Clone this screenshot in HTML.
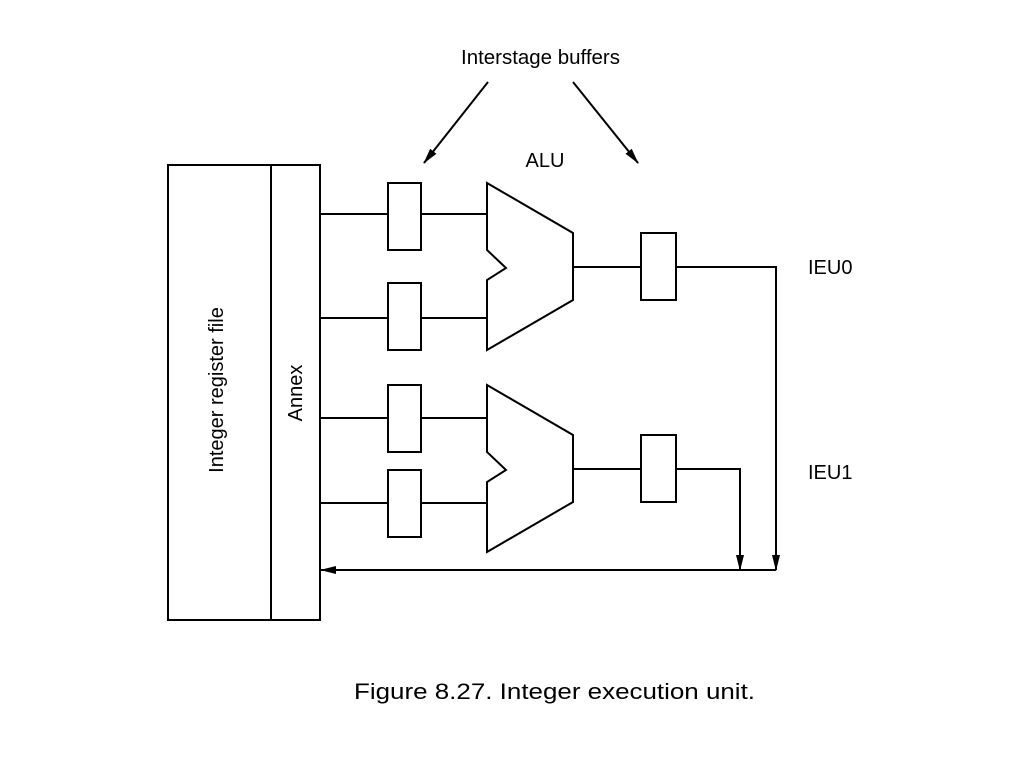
<!DOCTYPE html>
<html><head><style>body{margin:0;background:#fff}</style></head><body>
<svg width="1024" height="768" xmlns="http://www.w3.org/2000/svg" font-family="Liberation Sans, sans-serif">
<defs><marker id="a" markerWidth="16" markerHeight="8" refX="15" refY="4" orient="auto" markerUnits="userSpaceOnUse"><path d="M0,0 L16,4 L0,8 z" fill="#000"/></marker>
<marker id="b" markerWidth="16" markerHeight="8" refX="15" refY="4" orient="auto" markerUnits="userSpaceOnUse"><path d="M0,0 L16,4 L0,8 z" fill="#000"/></marker></defs>
<g stroke="#000" stroke-width="2" fill="none">
<rect x="168" y="165" width="103" height="455"/>
<rect x="271" y="165" width="49" height="455"/>
<line x1="320" y1="214" x2="487" y2="214"/>
<line x1="320" y1="318" x2="487" y2="318"/>
<line x1="320" y1="418" x2="487" y2="418"/>
<line x1="320" y1="503" x2="487" y2="503"/>
<g fill="#fff">
<rect x="388" y="183" width="33" height="67"/>
<rect x="388" y="283" width="33" height="67"/>
<rect x="388" y="385" width="33" height="67"/>
<rect x="388" y="470" width="33" height="67"/>
</g>
<path d="M487,183 L573,233 L573,300 L487,350 L487,280 L506,268 L487,250 Z" fill="#fff"/>
<path d="M487,385 L573,435 L573,502 L487,552 L487,482 L506,470 L487,452 Z" fill="#fff"/>
<path d="M573,267 L776,267 L776,570" marker-end="url(#a)"/>
<path d="M573,469 L740,469 L740,570" marker-end="url(#a)"/>
<rect x="641" y="233" width="35" height="67" fill="#fff"/>
<rect x="641" y="435" width="35" height="67" fill="#fff"/>
<line x1="776" y1="570" x2="321" y2="570" marker-end="url(#b)"/>
<line x1="488" y1="82" x2="424" y2="163" marker-end="url(#a)"/>
<line x1="573" y1="82" x2="638" y2="163" marker-end="url(#a)"/>
</g>
<g font-size="20" fill="#000">
<text x="461" y="64" textLength="159" lengthAdjust="spacingAndGlyphs">Interstage buffers</text>
<text x="545" y="167" text-anchor="middle">ALU</text>
<text x="808" y="274">IEU0</text>
<text x="808" y="479">IEU1</text>
<text x="354" y="699" font-size="22" textLength="401" lengthAdjust="spacingAndGlyphs">Figure 8.27.  Integer execution unit.</text>
<text transform="translate(223,390) rotate(-90)" text-anchor="middle">Integer register file</text>
<text transform="translate(302,393) rotate(-90)" text-anchor="middle">Annex</text>
</g>
</svg>
</body></html>
